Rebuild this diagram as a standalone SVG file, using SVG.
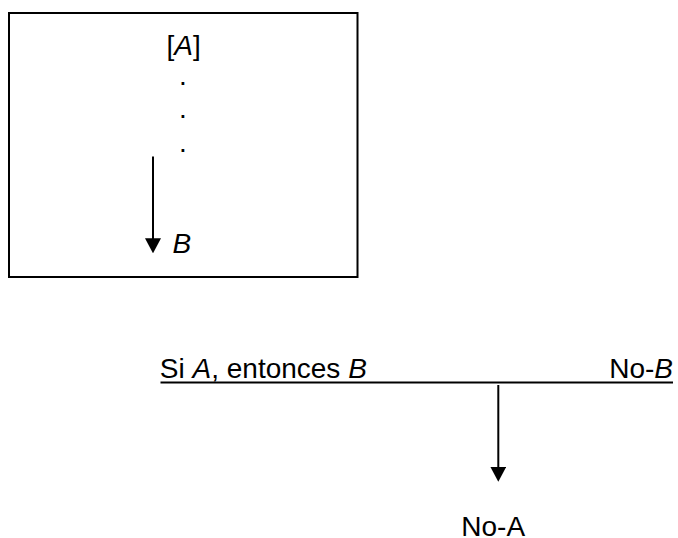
<svg xmlns="http://www.w3.org/2000/svg" width="678" height="538" viewBox="0 0 678 538">
  <style>
    text { font-family: "Liberation Sans", Arial, sans-serif; font-size: 28px; fill: #000; }
    .it { font-style: italic; }
    .frame { fill: #fff; stroke: #000; stroke-width: 2; }
    .wire { stroke: #000; stroke-width: 2; fill: none; }
  </style>
  <defs>
    <!-- filled triangle head; tip sits 8px past the end of the shaft -->
    <marker id="head" markerWidth="15" markerHeight="16" refX="7" refY="8" orient="auto" markerUnits="userSpaceOnUse" viewBox="0 0 15 16">
      <path d="M0,0 L15,8 L0,16 Z" fill="#000"/>
    </marker>
  </defs>
  <rect width="678" height="538" fill="#fff"/>

  <!-- argument box: from [A] through steps down to B -->
  <g id="box">
    <rect class="frame" x="9" y="13" width="348.5" height="264"/>
  </g>
  <g id="premise">
    <text x="166.5" y="54.5">[<tspan class="it">A</tspan>]</text>
  </g>
  <g id="steps">
    <text x="183" y="84.5" text-anchor="middle">.</text>
    <text x="183" y="118" text-anchor="middle">.</text>
    <text x="183" y="151.5" text-anchor="middle">.</text>
  </g>
  <g id="conclusion">
    <text class="it" x="172.5" y="253.3">B</text>
  </g>

  <!-- modus tollens: premises on the rule line, result below -->
  <g id="conditional">
    <text x="159.8" y="377.7">Si <tspan class="it">A</tspan>, entonces <tspan class="it">B</tspan></text>
  </g>
  <g id="negation">
    <text x="673" y="377.7" text-anchor="end">No-<tspan class="it">B</tspan></text>
  </g>
  <g id="result">
    <text x="461.3" y="535.5">No-A</text>
  </g>

  <g id="connectors">
    <line class="wire" x1="160.5" y1="382.5" x2="673" y2="382.5"/>
    <line class="wire" x1="153" y1="156.5" x2="153" y2="245.3" marker-end="url(#head)"/>
    <line class="wire" x1="498.3" y1="385" x2="498.3" y2="473.7" marker-end="url(#head)"/>
  </g>
</svg>
